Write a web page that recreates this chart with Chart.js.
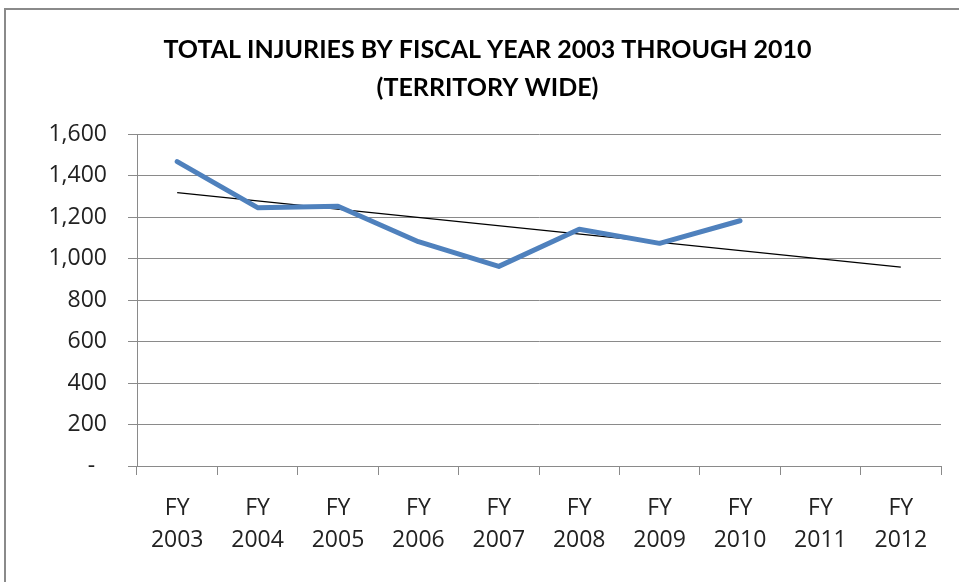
<!DOCTYPE html>
<html>
<head>
<meta charset="utf-8">
<script src="https://cdn.jsdelivr.net/npm/chart.js@4"></script>
<style>
  html, body { margin: 0; padding: 0; background: #fff; }
  #wrap { position: relative; width: 959px; height: 582px; overflow: hidden; }
  #frame { position: absolute; left: 4px; top: 8px; width: 1000px; height: 700px; border: 2px solid #8a8a8a; box-sizing: border-box; }
  canvas { position: absolute; left: 0; top: 0; }
</style>
</head>
<body>
<div id="wrap">
  <div id="frame"></div>
  <canvas id="myChart" width="959" height="582"></canvas>
</div>
<script>
// ==== chart data ====
const years = [['FY', '2003'], ['FY', '2004'], ['FY', '2005'], ['FY', '2006'], ['FY', '2007'],
               ['FY', '2008'], ['FY', '2009'], ['FY', '2010'], ['FY', '2011'], ['FY', '2012']];
const injuries = [1467, 1245, 1252, 1081, 962, 1141, 1073, 1182];
// trend line end points (FY 2003 and FY 2012)
const trend = [1317, null, null, null, null, null, null, null, null, 958];
const yTicks = [0, 200, 400, 600, 800, 1000, 1200, 1400, 1600];

const titleLines = ['TOTAL INJURIES BY FISCAL YEAR 2003 THROUGH 2010', '(TERRITORY WIDE)'];

const tickFont = { family: "'Open Sans', sans-serif", size: 23, lineHeight: 1.4 };

const data = {
    labels: years,
    datasets: [
        {
            label: 'Total injuries',
            data: injuries,
            borderColor: '#4f81bd',
            backgroundColor: '#4f81bd',
            borderWidth: 5,
            borderJoinStyle: 'round',
            borderCapStyle: 'round',
            pointRadius: 0,
            tension: 0
        },
        {
            label: 'Linear trend',
            data: trend,
            borderColor: '#000',
            borderWidth: 1.3,
            pointRadius: 0,
            spanGaps: true,
            tension: 0
        }
    ]
};

const config = {
    type: 'line',
    data: data,
    options: {
        responsive: false,
        animation: false,
        layout: { padding: { left: 34, right: 18, top: 0, bottom: 0 } },
        plugins: {
            legend: { display: false },
            tooltip: { enabled: false },
            title: {
                display: true,
                text: titleLines,
                color: '#000',
                font: { family: "Lato, sans-serif", size: 25, weight: 'bold', lineHeight: 1.52 },
                padding: { top: 31, bottom: 27 }
            }
        },
        scales: {
            x: {
                offset: true,
                grid: {
                    offset: true,
                    drawOnChartArea: false,
                    drawTicks: true,
                    tickLength: 9,
                    color: '#8a8a8a',
                    lineWidth: 1
                },
                border: { color: '#8a8a8a', width: 1 },
                ticks: { color: '#222', font: tickFont, padding: 17, maxRotation: 0, autoSkip: false },
                afterFit: (scale) => { scale.height = 116; }
            },
            y: {
                min: 0,
                max: 1600,
                afterBuildTicks: (scale) => { scale.ticks = yTicks.map(v => ({ value: v })); },
                grid: { color: '#8a8a8a', lineWidth: 1, tickLength: 9 },
                border: { color: '#8a8a8a', width: 1 },
                ticks: {
                    color: '#222',
                    font: tickFont,
                    padding: 21,
                    callback: (v) => v === 0 ? '-\u00a0\u00a0' : v.toLocaleString('en-US')
                },
                afterFit: (scale) => { scale.width = 103; }
            }
        }
    }
};

let myChart = new Chart(document.getElementById('myChart'), config);
</script>
</body>
</html>
